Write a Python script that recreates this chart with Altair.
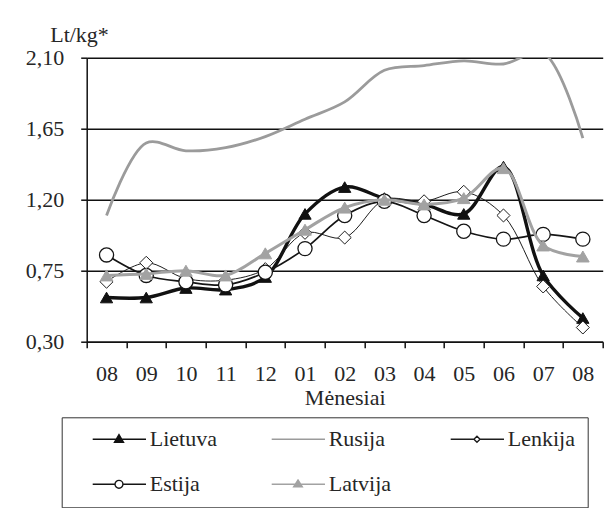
import altair as alt
import pandas as pd

# ---- data ----
month_labels = ["08", "09", "10", "11", "12", "01", "02", "03", "04", "05", "06", "07", "08"]
series_names = ["Lietuva", "Rusija", "Lenkija", "Estija", "Latvija"]

lietuva = [0.58, 0.58, 0.64, 0.63, 0.71, 1.11, 1.28, 1.21, 1.17, 1.11, 1.41, 0.72, 0.45]
rusija = [1.10, 1.56, 1.51, 1.53, 1.60, 1.71, 1.82, 2.02, 2.05, 2.08, 2.06, 2.13, 1.59]
lenkija = [0.68, 0.80, 0.70, 0.69, 0.76, 0.99, 0.96, 1.20, 1.19, 1.25, 1.10, 0.65, 0.39]
estija = [0.85, 0.72, 0.68, 0.66, 0.74, 0.89, 1.10, 1.19, 1.10, 1.00, 0.95, 0.98, 0.95]
latvija = [0.72, 0.73, 0.75, 0.72, 0.86, 1.01, 1.15, 1.20, 1.17, 1.21, 1.40, 0.91, 0.84]

y_ticks = [0.30, 0.75, 1.20, 1.65, 2.10]

series_values = [lietuva, rusija, lenkija, estija, latvija]
rows = []
for name, vals in zip(series_names, series_values):
    for i, v in enumerate(vals):
        rows.append({"idx": i, "series": name, "value": v})
df = pd.DataFrame(rows)

# ---- styles ----
FONT = "Liberation Serif"
TXT = "#262626"
FS = 22
line_color = {"Lietuva": "#111111", "Rusija": "#9b9b9b", "Lenkija": "#1e1e1e",
              "Estija": "#151515", "Latvija": "#a2a2a2"}
line_width = {"Lietuva": 3.4, "Rusija": 2.8, "Lenkija": 1.0, "Estija": 1.7, "Latvija": 3.0}
markers = {
    "Lietuva": dict(shape="triangle-up", fill="#111111", stroke="#111111", size=150, strokeWidth=1),
    "Lenkija": dict(shape="diamond", fill="white", stroke="#1e1e1e", size=170, strokeWidth=1),
    "Estija": dict(shape="circle", fill="white", stroke="#151515", size=200, strokeWidth=1.3),
    "Latvija": dict(shape="triangle-up", fill="#a2a2a2", stroke="#a2a2a2", size=160, strokeWidth=1),
}

# legend symbols: line + marker drawn as a custom path (unit box -1..1)
leg_shape = {
    "Lietuva": "M-0.5,0H0.98M0.23,-0.13L0.355,0.08L0.105,0.08Z",
    "Rusija": "M-0.5,0H0.98",
    "Lenkija": "M-0.5,0H0.145M0.315,0H0.98M0.23,-0.085L0.315,0L0.23,0.085L0.145,0Z",
    "Estija": "M-0.5,0H0.12M0.34,0H0.98M0.34,0A0.11,0.11,0,1,1,0.12,0A0.11,0.11,0,1,1,0.34,0Z",
    "Latvija": "M-0.5,0H0.98M0.23,-0.12L0.35,0.07L0.11,0.07Z",
}
leg_fill = {"Lietuva": "#111111", "Rusija": "transparent", "Lenkija": "white",
            "Estija": "white", "Latvija": "#a2a2a2"}

legend = alt.Legend(
    title=None,
    orient="none",
    legendX=-25,
    legendY=359.6,
    columns=3,
    direction="horizontal",
    gridAlign="all",
    padding=12,
    rowPadding=23,
    columnPadding=35,
    clipHeight=20,
    strokeColor="#333333",
    labelFont=FONT,
    labelFontSize=FS,
    labelColor=TXT,
    labelOffset=2,
    symbolSize=5184,
    symbolStrokeWidth=1.4,
    symbolOpacity=1,
)

label_expr = "[" + ",".join("'%s'" % m for m in month_labels) + "][datum.value]"

x_enc = alt.X(
    "idx:O",
    scale=alt.Scale(paddingInner=0, paddingOuter=0),
    axis=alt.Axis(
        labelExpr=label_expr,
        labelAngle=0,
        tickBand="extent",
        title="Mėnesiai",
        titlePadding=3,
        labelPadding=16,
        tickSize=6,
        grid=False,
    ),
)
y_enc = alt.Y(
    "value:Q",
    scale=alt.Scale(domain=[0.30, 2.10], nice=False, zero=False),
    axis=alt.Axis(
        values=y_ticks,
        labelExpr="replace(format(datum.value, '.2f'), '.', ',')",
        grid=True,
        gridColor="#111111",
        gridWidth=1.5,
        tickSize=6,
        labelPadding=17,
        title="Lt/kg*",
        titleAngle=0,
        titleAlign="left",
        titleBaseline="middle",
        titleX=-37,
        titleY=-23,
    ),
)

layers = []
for name in series_names:
    base = alt.Chart(df).transform_filter(alt.datum.series == name)
    layers.append(
        base.mark_line(
            interpolate="catmull-rom",
            strokeWidth=line_width[name],
            stroke=line_color[name],
            clip=True,
        ).encode(x=x_enc, y=y_enc)
    )
    if name in markers:
        m = markers[name]
        layers.append(
            base.mark_point(
                shape=m["shape"], filled=True, fill=m["fill"], stroke=m["stroke"],
                size=m["size"], strokeWidth=m["strokeWidth"], opacity=1,
            ).encode(x=x_enc, y=y_enc)
        )

# legend-only layer: zero-size points whose scales carry the legend symbols
legend_layer = alt.Chart(df).mark_point(size=0, strokeWidth=1.4, opacity=1).encode(
    x=x_enc,
    y=y_enc,
    color=alt.Color("series:N",
                    scale=alt.Scale(domain=series_names, range=[line_color[n] for n in series_names]),
                    legend=legend),
    fill=alt.Fill("series:N",
                  scale=alt.Scale(domain=series_names, range=[leg_fill[n] for n in series_names]),
                  legend=legend),
    shape=alt.Shape("series:N",
                    scale=alt.Scale(domain=series_names, range=[leg_shape[n] for n in series_names]),
                    legend=legend),
)
layers.append(legend_layer)

chart = (
    alt.layer(*layers)
    .properties(
        width=516,
        height=284,
        autosize=alt.AutoSizeParams(type="none"),
        padding={"left": 78.7, "top": 49.7, "right": 1.3, "bottom": 166.3},
        background="white",
    )
    .configure_view(stroke=None)
    .configure_axis(
        labelFont=FONT,
        titleFont=FONT,
        labelFontSize=FS,
        titleFontSize=FS,
        labelColor=TXT,
        titleColor=TXT,
        titleFontWeight="normal",
        domainColor="#111111",
        tickColor="#111111",
        domainWidth=1.5,
        tickWidth=1.5,
    )
)

chart.save("out.html", embed_options={"renderer": "svg", "actions": False})
